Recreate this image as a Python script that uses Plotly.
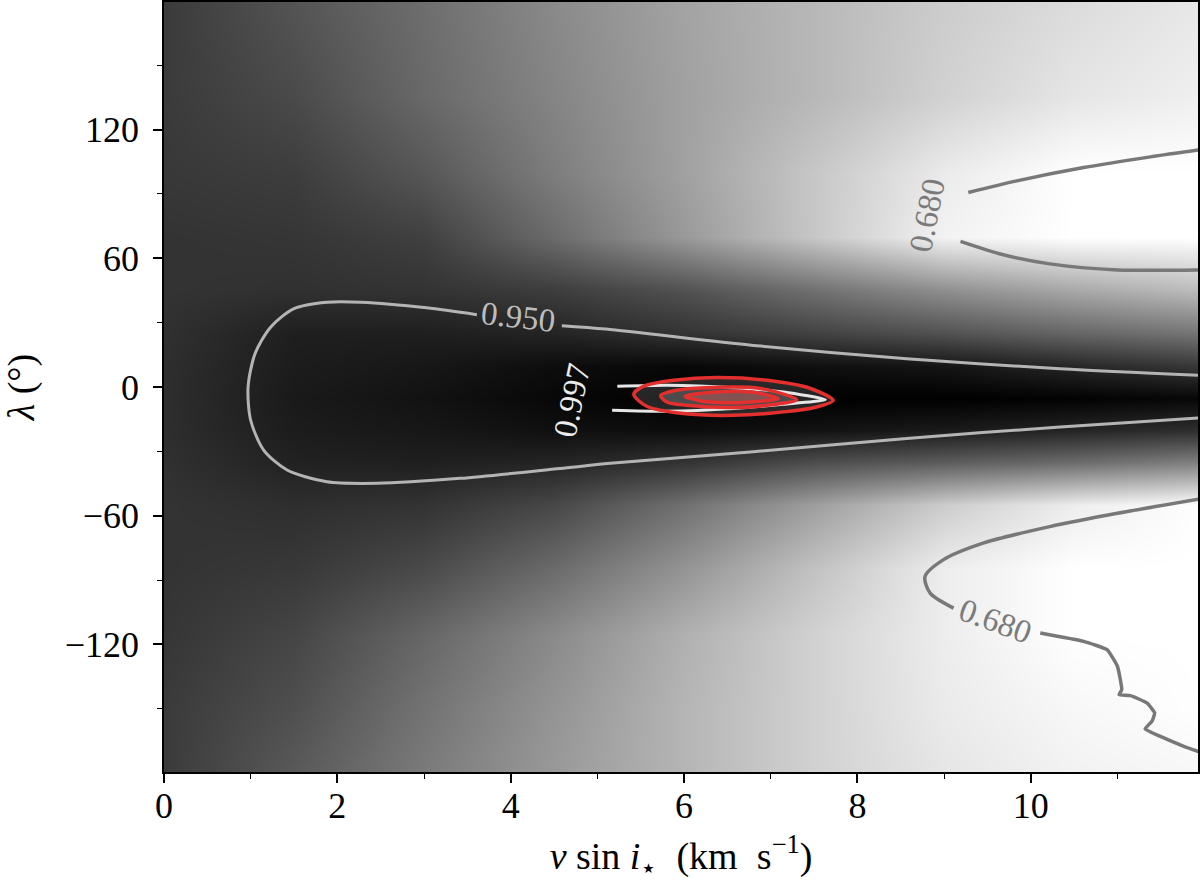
import plotly.graph_objects as go

# background map: brightness (0 = black, 1 = white)
VSINI_GRID = [0, 1.5, 3, 4.5, 6, 7.5, 9, 10.5, 12]
LAMBDA_GRID = [-180, -150, -115, -85, -55, -35, -20, -5, 10, 25, 45, 70, 100, 135, 180]
BRIGHTNESS = [
    [0.23, 0.35, 0.48, 0.60, 0.71, 0.82, 0.90, 0.95, 0.97],  # -180
    [0.23, 0.31, 0.45, 0.58, 0.71, 0.82, 0.92, 0.97, 1.00],  # -150
    [0.21, 0.27, 0.40, 0.54, 0.69, 0.82, 0.93, 1.00, 1.00],  # -115
    [0.20, 0.22, 0.29, 0.42, 0.58, 0.76, 0.93, 1.00, 1.00],  # -85
    [0.20, 0.18, 0.20, 0.28, 0.44, 0.62, 0.80, 0.93, 1.00],  # -55
    [0.19, 0.13, 0.12, 0.14, 0.20, 0.30, 0.36, 0.42, 0.50],  # -35
    [0.18, 0.11, 0.09, 0.06, 0.05, 0.07, 0.10, 0.14, 0.18],  # -20
    [0.18, 0.10, 0.07, 0.03, 0.00, 0.00, 0.00, 0.01, 0.03],  # -5
    [0.18, 0.11, 0.09, 0.05, 0.03, 0.06, 0.08, 0.15, 0.22],  # 10
    [0.19, 0.12, 0.12, 0.14, 0.20, 0.26, 0.32, 0.40, 0.46],  # 25
    [0.20, 0.19, 0.20, 0.24, 0.32, 0.44, 0.56, 0.66, 0.74],  # 45
    [0.20, 0.21, 0.25, 0.42, 0.60, 0.78, 0.95, 1.00, 1.00],  # 70
    [0.22, 0.24, 0.34, 0.49, 0.63, 0.78, 0.92, 1.00, 1.00],  # 100
    [0.23, 0.29, 0.41, 0.52, 0.63, 0.72, 0.82, 0.90, 0.94],  # 135
    [0.23, 0.33, 0.43, 0.54, 0.64, 0.72, 0.80, 0.86, 0.91],  # 180
]

# contour lines (vsini, lambda)
C950_LOOP_X = [3.61, 3.03, 2.27, 1.88, 1.50, 1.23, 1.05, 0.97, 1.00, 1.15, 1.42, 1.88, 2.46, 3.42, 4.57, 5.15, 6.80, 8.57, 10.34, 11.95]
C950_LOOP_Y = [33.7, 36.9, 39.5, 39.5, 36.5, 27.9, 15.5, 0.0, -15.5, -29.4, -38.7, -44.2, -44.9, -42.6, -38.0, -35.6, -30.2, -24.0, -18.6, -14.4]
C950_TOP_X = [4.59, 5.10, 6.80, 8.57, 10.34, 11.95]
C950_TOP_Y = [28.6, 27.0, 19.4, 13.2, 8.5, 5.4]

C997_X = [5.23, 5.80, 6.57, 7.15, 7.63, 7.15, 6.57, 5.80, 5.17]
C997_Y = [0.3, 0.8, -0.3, -2.3, -5.9, -8.0, -10.0, -11.3, -10.8]

C680_UP_A_X = [9.28, 9.84, 10.61, 11.38, 11.95]
C680_UP_A_Y = [90.7, 96.1, 102.3, 107.3, 110.6]
C680_UP_B_X = [9.19, 9.65, 10.22, 11.00, 11.95]
C680_UP_B_Y = [67.9, 62.0, 57.4, 54.6, 54.6]

C680_LOW_A_X = [11.95, 11.00, 10.22, 9.45, 8.99, 8.78, 8.84, 9.11]
C680_LOW_A_Y = [-52.2, -58.9, -65.1, -72.8, -80.6, -88.4, -96.1, -103.1]
C680_LOW_B_X = [10.11, 10.61, 10.88, 11.00, 11.05, 11.02, 11.15, 11.34, 11.43, 11.40, 11.32, 11.49, 11.76, 11.95]
C680_LOW_B_Y = [-114.7, -118.6, -122.5, -130.2, -141.1, -143.4, -143.9, -147.3, -151.9, -155.8, -159.4, -162.8, -167.4, -170.2]

# posterior contours (red)
RED_OUTER_X = [5.42, 5.53, 5.88, 6.38, 6.96, 7.46, 7.72, 7.53, 7.15, 6.57, 5.99, 5.57, 5.42]
RED_OUTER_Y = [-3.4, 0.3, 3.1, 4.4, 3.1, -0.7, -6.2, -9.3, -11.6, -13.2, -12.4, -9.0, -3.4]
RED_MID_X = [5.73, 5.90, 6.26, 6.88, 7.30, 6.98, 6.57, 6.03, 5.80, 5.73]
RED_MID_Y = [-3.9, -1.6, -0.3, -0.7, -5.9, -8.4, -9.6, -8.5, -7.0, -3.9]
RED_IN_X = [6.01, 6.38, 6.80, 7.09, 6.65, 6.19, 6.01]
RED_IN_Y = [-4.3, -2.3, -2.5, -5.4, -7.3, -6.5, -4.3]

LABELS = [
    ("0.950", 4.09, 32.6, 6.5, "#bdbdbd"),
    ("0.997", 4.71, -6.2, -78, "#ececec"),
    ("0.680", 8.80, 79.9, -79, "#7a7a7a"),
    ("0.680", 9.59, -109.3, 20, "#7a7a7a"),
]

FONT = "Liberation Serif"

fig = go.Figure()

fig.add_trace(go.Heatmap(
    x=VSINI_GRID, y=LAMBDA_GRID, z=BRIGHTNESS,
    zmin=0, zmax=1, zsmooth="best",
    colorscale=[[0, "#000000"], [1, "#ffffff"]],
    showscale=False, hoverinfo="skip",
))


def line(xs, ys, color, width, smooth=0.8):
    fig.add_trace(go.Scatter(
        x=xs, y=ys, mode="lines",
        line=dict(color=color, width=width, shape="spline", smoothing=smooth),
        hoverinfo="skip", showlegend=False,
    ))


line(C950_LOOP_X, C950_LOOP_Y, "#b4b4b4", 3)
line(C950_TOP_X, C950_TOP_Y, "#b4b4b4", 3)
line(C680_UP_A_X, C680_UP_A_Y, "#787878", 3.5)
line(C680_UP_B_X, C680_UP_B_Y, "#787878", 3.5)
line(C680_LOW_A_X, C680_LOW_A_Y, "#787878", 3.5)
line(C680_LOW_B_X, C680_LOW_B_Y, "#787878", 3.5, smooth=0.4)

# faint fills of the posterior region
for xs, ys, fill in [
    (RED_OUTER_X, RED_OUTER_Y, "rgba(255,255,255,0.14)"),
    (RED_MID_X, RED_MID_Y, "rgba(255,255,255,0.18)"),
    (RED_IN_X, RED_IN_Y, "rgba(205,90,90,0.45)"),
]:
    fig.add_trace(go.Scatter(
        x=xs, y=ys, mode="none", fill="toself", fillcolor=fill,
        hoverinfo="skip", showlegend=False,
    ))

line(C997_X, C997_Y, "#e6e6e6", 3, smooth=0.6)

for xs, ys in [(RED_OUTER_X, RED_OUTER_Y), (RED_MID_X, RED_MID_Y), (RED_IN_X, RED_IN_Y)]:
    line(xs, ys, "#e3302f", 3.5)

for text, x, y, angle, color in LABELS:
    fig.add_annotation(
        x=x, y=y, xref="x", yref="y", text=text, showarrow=False,
        textangle=angle, font=dict(family=FONT, size=33, color=color),
    )

fig.update_layout(
    width=1200, height=883,
    margin=dict(l=164, r=2, t=2, b=111),
    paper_bgcolor="white", plot_bgcolor="white",
    showlegend=False,
    font=dict(family=FONT, size=36, color="black"),
)
fig.update_xaxes(
    range=[0, 11.93], automargin=False,
    tickvals=[0, 2, 4, 6, 8, 10], ticktext=["0", "2", "4", "6", "8", "10"],
    ticks="outside", ticklen=9, tickwidth=1.5, tickcolor="black",
    minor=dict(tickvals=[1, 3, 5, 7, 9, 11], ticks="outside", ticklen=5, tickwidth=1.2, tickcolor="black"),
    showline=True, linecolor="black", linewidth=1.5, mirror=True,
    showgrid=False, zeroline=False, ticklabelstandoff=-8,
    title=dict(text="<i>v</i>&nbsp;sin&nbsp;<i>i</i><sub>⋆</sub>&nbsp;&nbsp;(km&nbsp;&nbsp;s<sup>−1</sup>)", standoff=26,
               font=dict(family=FONT, size=38)),
)
fig.update_yaxes(
    range=[-179.5, 179.5], automargin=False,
    tickvals=[-120, -60, 0, 60, 120], ticktext=["−120", "−60", "0", "60", "120"],
    ticks="outside", ticklen=9, tickwidth=1.5, tickcolor="black",
    minor=dict(tickvals=[-150, -90, -30, 30, 90, 150], ticks="outside", ticklen=5, tickwidth=1.2, tickcolor="black"),
    showline=True, linecolor="black", linewidth=1.5, mirror=True,
    showgrid=False, zeroline=False, ticklabelstandoff=7,
    title=dict(text="<i>λ</i> (°)", standoff=20, font=dict(family=FONT, size=38)),
)

# the page's default body margin would shift the figure by 8 px
fig.write_html("out.html", config={"displayModeBar": False},
               post_script="document.body.style.margin='0';")
